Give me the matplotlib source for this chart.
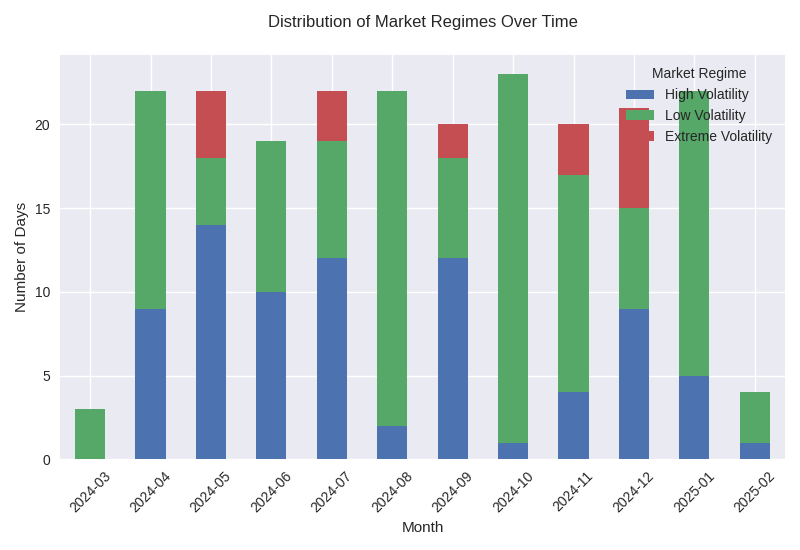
import matplotlib
matplotlib.use("Agg")
import matplotlib.pyplot as plt
import pandas as pd

months = ["2024-03", "2024-04", "2024-05", "2024-06", "2024-07", "2024-08",
          "2024-09", "2024-10", "2024-11", "2024-12", "2025-01", "2025-02"]
high_vol = [0, 9, 14, 10, 12, 2, 12, 1, 4, 9, 5, 1]
low_vol = [3, 13, 4, 9, 7, 20, 6, 22, 13, 6, 17, 3]
extreme_vol = [0, 0, 4, 0, 3, 0, 2, 0, 3, 6, 0, 0]

plt.style.use("seaborn-v0_8")
plt.rcParams["font.family"] = ["Liberation Sans", "DejaVu Sans"]

df = pd.DataFrame({
    "High Volatility": high_vol,
    "Low Volatility": low_vol,
    "Extreme Volatility": extreme_vol,
}, index=months)

fig, ax = plt.subplots(figsize=(8, 5.5), dpi=100)
df.plot(kind="bar", stacked=True, ax=ax, color=["#4c72b0", "#55a868", "#c44e52"])

ax.set_title("Distribution of Market Regimes Over Time", pad=20)
ax.set_xlabel("Month")
ax.set_ylabel("Number of Days")
ax.legend(title="Market Regime")
plt.xticks(rotation=45)

plt.tight_layout()
plt.savefig("out.png")
